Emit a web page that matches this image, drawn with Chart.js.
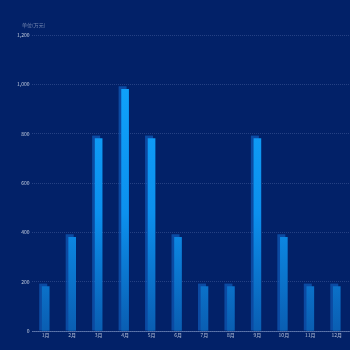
<!DOCTYPE html>
<html>
<head>
<meta charset="utf-8">
<script src="https://cdn.jsdelivr.net/npm/chart.js@4/dist/chart.umd.min.js"></script>
<style>
html,body{margin:0;padding:0;background:#022168;}
#wrap{width:350px;height:350px;position:relative;}
</style>
</head>
<body>
<div id="wrap"><canvas id="chartMonth"></canvas></div>
<script>
const months=["1月","2月","3月","4月","5月","6月","7月","8月","9月","10月","11月","12月"];
const amounts=[180,380,780,980,780,380,180,180,780,380,180,180];
const yTicks=[0,200,400,600,800,1000,1200];
const unitLabel="单位(万元)";

const FONT="'Noto Sans CJK SC','Noto Sans',sans-serif";

/* back face of each bar, shifted up-left for a 3d look */
const backFace={
id:"backFace",
beforeDatasetsDraw(chart){
let ctx=chart.ctx;
let meta=chart.getDatasetMeta(0);
ctx.save();
ctx.fillStyle="rgba(20,110,210,0.55)";
meta.data.forEach(bar=>{
let w=bar.width;
let left=bar.x-w/2-3;
let top=bar.y-3;
ctx.fillRect(left,top,w+1,bar.base-top);
});
ctx.restore();
}
};

/* unit text above the y axis */
const unitText={
id:"unitText",
afterDraw(chart){
let ctx=chart.ctx;
ctx.save();
ctx.font="5px "+FONT;
ctx.fillStyle="rgba(200,210,230,0.55)";
ctx.textBaseline="middle";
ctx.fillText(unitLabel,22,25);
ctx.restore();
}
};

function frontGradient(context){
let area=context.chart.chartArea;
if(!area) return "#0d9cf5";
let g=context.chart.ctx.createLinearGradient(0,area.top,0,area.bottom);
g.addColorStop(0,"#10a8ff");
g.addColorStop(0.6,"#0c90ee");
g.addColorStop(1,"#0a5eb2");
return g;
}

new Chart(document.getElementById("chartMonth"),{
type:"bar",
data:{
labels:months,
datasets:[{
data:amounts,
backgroundColor:frontGradient,
barThickness:7,
borderWidth:0
}]
},
options:{
responsive:true,
maintainAspectRatio:false,
animation:false,
layout:{padding:{top:35,right:0,bottom:10,left:14}},
plugins:{legend:{display:false},tooltip:{enabled:false}},
scales:{
x:{
grid:{display:false,drawTicks:false},
border:{display:true,color:"rgba(150,170,210,0.5)",dash:[1,1]},
ticks:{color:"rgba(220,228,240,0.8)",font:{size:5,family:FONT,lineHeight:1},padding:2,maxRotation:0,autoSkip:false}
},
y:{
min:0,max:1200,
afterBuildTicks:axis=>{axis.ticks=yTicks.map(v=>({value:v}));},
grid:{color:"rgba(120,140,200,0.3)",drawTicks:false},
border:{display:false,dash:[1,1]},
ticks:{color:"rgba(220,228,240,0.85)",font:{size:5,family:FONT},padding:3,
callback:v=>v.toLocaleString("en-US")}
}
}
},
plugins:[backFace,unitText]
});
</script>
</body>
</html>
